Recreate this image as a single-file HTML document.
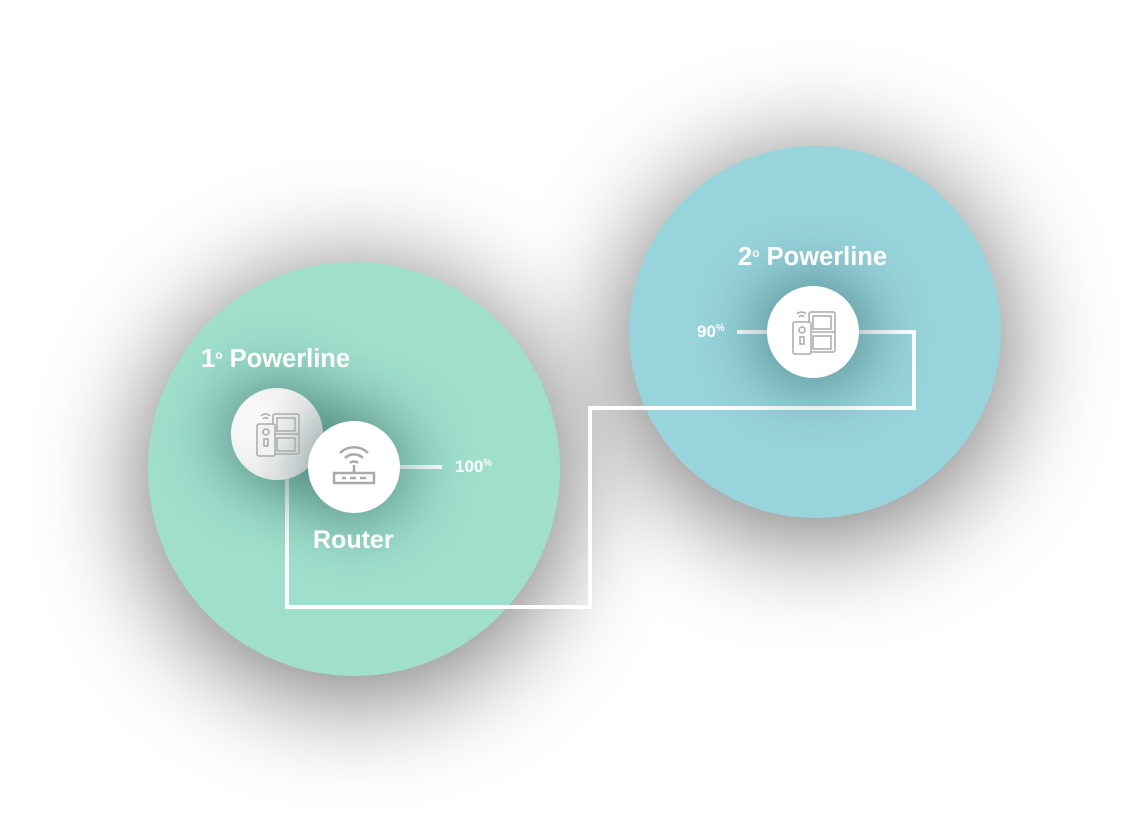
<!DOCTYPE html>
<html><head><style>
body{margin:0;width:1148px;height:828px;background:#fff;position:relative;overflow:hidden;font-family:"Liberation Sans",Arial,sans-serif}
.big{position:absolute;border-radius:50%;overflow:hidden}
.sh{position:absolute;border-radius:50%;background:#000;opacity:0.55;filter:blur(55px)}
.node{position:absolute;width:92px;height:92px;border-radius:50%;background:#fff;box-shadow:0 0 60px 14px rgba(0,50,50,0.4)}
.t{position:absolute;color:#fff;font-weight:bold;white-space:nowrap}
sup{font-size:12px;font-weight:bold;vertical-align:8px}
</style></head><body>
<div class="sh" style="left:143px;top:272px;width:422px;height:424px"></div>
<div class="sh" style="left:624px;top:156px;width:382px;height:382px"></div>
<div class="big" style="left:148px;top:262px;width:412px;height:414px;background:#9fdfcc"></div>
<div class="big" style="left:629px;top:146px;width:372px;height:372px;background:#98d4dc"></div>
<svg style="position:absolute;left:0;top:0" width="1148" height="828">
<polyline points="287,470 287,607 590,607 590,408 914,408 914,332 850,332" fill="none" stroke="#fff" stroke-width="4"/>
<line x1="390" y1="467" x2="442" y2="467" stroke="#fff" stroke-width="4"/>
<line x1="737" y1="332" x2="780" y2="332" stroke="#fff" stroke-width="4"/>
</svg>
<div class="node" style="left:231px;top:388px;background:radial-gradient(circle at 35% 40%,#fff,#e6e6e6)"></div>
<div class="node" style="left:308px;top:421px"></div>
<div class="node" style="left:767px;top:286px"></div>
<svg style="position:absolute;left:255px;top:411px" width="46" height="46" viewBox="0 0 46 46" fill="none" stroke="#aaa" stroke-width="1.5">
<rect x="18" y="3" width="26" height="40" rx="2"/><line x1="18" y1="23" x2="44" y2="23"/>
<rect x="22" y="7" width="18" height="13"/><rect x="22" y="27" width="18" height="13"/>
<rect x="2" y="13" width="18" height="32" rx="2" fill="#f2f2f2"/><circle cx="11" cy="21" r="3"/><rect x="9" y="28" width="4" height="7"/>
<path d="M6 5a6 6 0 0 1 9 0M8 8a3 3 0 0 1 5 0"/>
</svg>
<svg style="position:absolute;left:330px;top:441px" width="48" height="48" viewBox="0 0 48 48" fill="none" stroke="#aaa" stroke-width="2.5">
<path d="M10 12a20 20 0 0 1 28 0M15 17a13 13 0 0 1 18 0M20 22a6 6 0 0 1 8 0"/>
<line x1="24" y1="24" x2="24" y2="32"/><rect x="4" y="32" width="40" height="10"/>
<line x1="12" y1="37" x2="16" y2="37"/><line x1="20" y1="37" x2="26" y2="37"/><line x1="30" y1="37" x2="36" y2="37"/>
</svg>
<svg style="position:absolute;left:791px;top:309px" width="46" height="46" viewBox="0 0 46 46" fill="none" stroke="#aaa" stroke-width="1.5">
<rect x="18" y="3" width="26" height="40" rx="2"/><line x1="18" y1="23" x2="44" y2="23"/>
<rect x="22" y="7" width="18" height="13"/><rect x="22" y="27" width="18" height="13"/>
<rect x="2" y="13" width="18" height="32" rx="2" fill="#fff"/><circle cx="11" cy="21" r="3"/><rect x="9" y="28" width="4" height="7"/>
<path d="M6 5a6 6 0 0 1 9 0M8 8a3 3 0 0 1 5 0"/>
</svg>
<div class="t" style="left:201px;top:345px;font-size:25.5px">1<sup>o</sup> Powerline</div>
<div class="t" style="left:738px;top:243px;font-size:25.5px">2<sup>o</sup> Powerline</div>
<div class="t" style="left:313px;top:526px;font-size:25px">Router</div>
<div class="t" style="left:455px;top:457px;font-size:17px">100<sup style="font-size:10px;vertical-align:6px">%</sup></div>
<div class="t" style="left:697px;top:322px;font-size:17px">90<sup style="font-size:10px;vertical-align:6px">%</sup></div>
</body></html>
